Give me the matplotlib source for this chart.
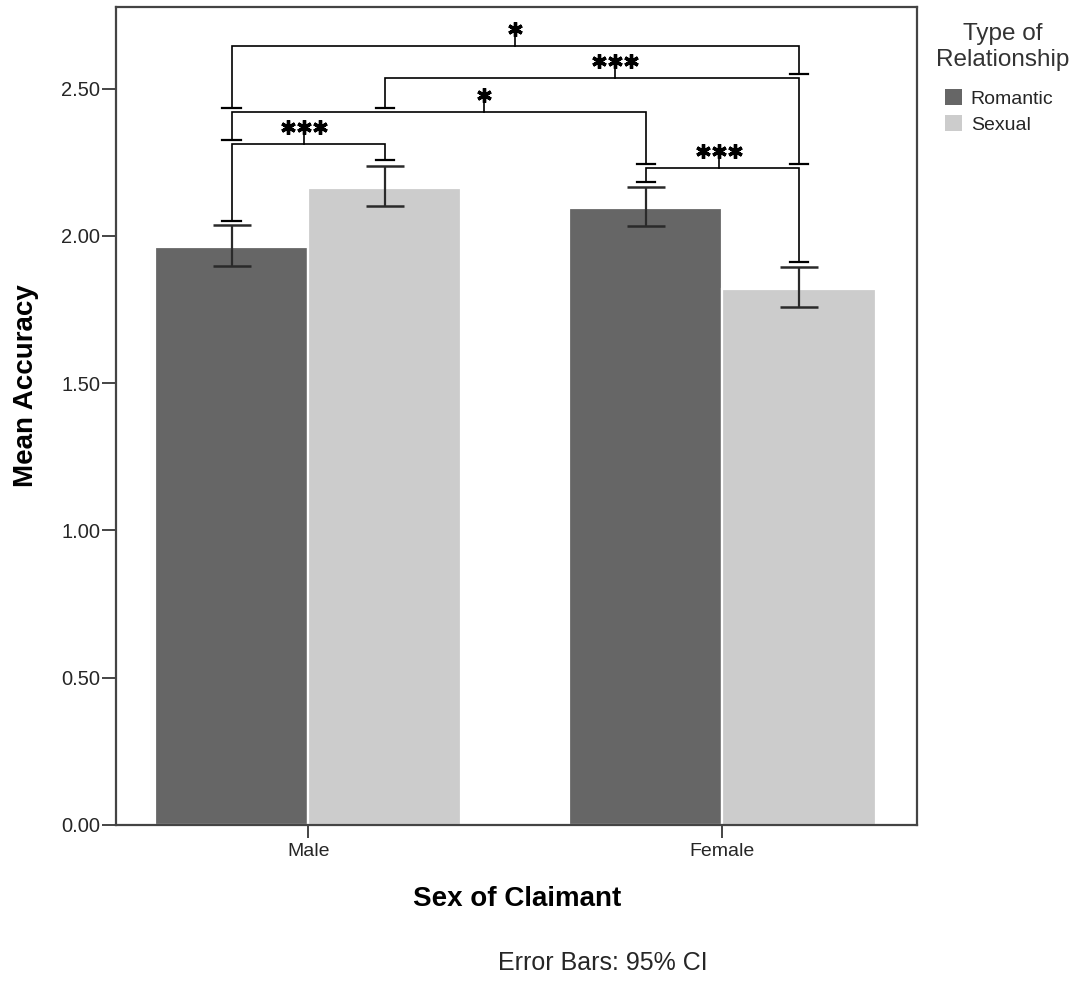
import matplotlib
matplotlib.use("Agg")
import matplotlib.pyplot as plt
import numpy as np

# ---- data -------------------------------------------------------------
groups = ["Male", "Female"]
series = ["Romantic", "Sexual"]
romantic_mean = [1.962, 2.093]
sexual_mean = [2.163, 1.820]
romantic_ci_low = [1.899, 2.033]
romantic_ci_high = [2.037, 2.167]
sexual_ci_low = [2.101, 1.759]
sexual_ci_high = [2.238, 1.895]
y_ticks = [0.0, 0.5, 1.0, 1.5, 2.0, 2.5]

# significance brackets: (left bar, right bar, level, left end, right end, label, label position)
# bars are indexed 0 = Male/Romantic, 1 = Male/Sexual, 2 = Female/Romantic, 3 = Female/Sexual
brackets = [
    (0, 3, 2.644, 2.434, 2.549, "*", 0.50),
    (1, 3, 2.536, 2.434, 2.244, "***", 0.556),
    (0, 2, 2.420, 2.325, 2.244, "*", 0.61),
    (2, 3, 2.230, 2.183, 1.911, "***", 0.48),
    (0, 1, 2.312, 2.050, 2.257, "***", 0.47),
]

plt.rcParams["font.family"] = ["Liberation Sans", "DejaVu Sans"]

DARK = "#666666"
LIGHT = "#cccccc"
TEXT = "#262626"

fig = plt.figure(figsize=(10.8, 9.81), dpi=100)
ax = fig.add_axes([116 / 1080, 1 - 825 / 981, 801 / 1080, 818 / 981])

x = np.arange(len(groups))
width = 0.37
off = width / 2

bars_r = ax.bar(x - off, romantic_mean, width, color=DARK, edgecolor="white",
                linewidth=1.6, label=series[0], zorder=2)
bars_s = ax.bar(x + off, sexual_mean, width, color=LIGHT, edgecolor="white",
                linewidth=1.6, label=series[1], zorder=2)

def draw_ci(xs, mean, lo, hi):
    mean = np.asarray(mean)
    yerr = np.vstack([mean - np.asarray(lo), np.asarray(hi) - mean])
    ax.errorbar(xs, mean, yerr=yerr, fmt="none", ecolor="#2a2a2a",
                elinewidth=1.6, capsize=13.5, capthick=1.8, zorder=3)

draw_ci(x - off, romantic_mean, romantic_ci_low, romantic_ci_high)
draw_ci(x + off, sexual_mean, sexual_ci_low, sexual_ci_high)

# centres of the four bars, in plotting order
bar_x = [x[0] - off, x[0] + off, x[1] - off, x[1] + off]

cap_half = 0.022
tick_len = 0.030
star_rise = 0.058
star_gap = 0.0386

for i, j, level, end_l, end_r, label, frac in brackets:
    xl, xr = bar_x[i], bar_x[j]
    ax.plot([xl, xl, xr, xr], [end_l, level, level, end_r], color="black",
            lw=1.2, solid_joinstyle="miter", zorder=4)
    ax.plot([xl - cap_half, xl + cap_half], [end_l, end_l], color="black", lw=1.6, zorder=4)
    ax.plot([xr - cap_half, xr + cap_half], [end_r, end_r], color="black", lw=1.6, zorder=4)
    xm = xl + frac * (xr - xl)
    ax.plot([xm, xm], [level, level + tick_len], color="black", lw=1.2, zorder=4)
    n = len(label)
    xs = xm + (np.arange(n) - (n - 1) / 2) * star_gap
    ax.plot(xs, np.full(n, level + star_rise), linestyle="none",
            marker=(6, 2, 0), markersize=10.5, markeredgewidth=2.4,
            color="black", zorder=4)

# ---- axes styling ------------------------------------------------------
ax.set_xlim(-0.464, 1.47)
ax.set_ylim(0, 2.777)
ax.set_yticks(y_ticks)
ax.set_yticklabels([f"{v:.2f}" for v in y_ticks])
ax.set_xticks(x)
ax.set_xticklabels(groups)

for sp in ax.spines.values():
    sp.set_color("#444444")
    sp.set_linewidth(1.6)

ax.tick_params(axis="y", direction="out", length=10, width=1.4, color="#444444",
               labelsize=14.5, labelcolor=TEXT, pad=1.5)
ax.tick_params(axis="x", direction="out", length=9, width=1.4, color="#444444",
               labelsize=14, labelcolor=TEXT, pad=4)

ax.set_ylabel("Mean Accuracy", fontsize=20, fontweight="bold", color="black")
ax.yaxis.label.set_va("center")
ax.yaxis.set_label_coords(-0.112, 0.537)
ax.set_xlabel("Sex of Claimant", fontsize=20, fontweight="bold", color="black")
ax.xaxis.label.set_va("center")
ax.xaxis.set_label_coords(0.5006, -0.0905)

fig.text(603 / 1080, 1 - 963 / 981, "Error Bars: 95% CI", ha="center",
         va="center", fontsize=18, color=TEXT)

# legend: centred two-line title with the swatches underneath
fig.text(1003 / 1080, 1 - 47 / 981, "Type of\nRelationship", ha="center",
         va="center", multialignment="center", fontsize=17.5, color="#333333",
         linespacing=1.28)
leg = ax.legend(handles=[bars_r, bars_s], labels=series,
                loc="upper left", bbox_to_anchor=(945 / 1080, 1 - 89 / 981),
                bbox_transform=fig.transFigure, frameon=False, fontsize=14,
                handlelength=0.87, handleheight=0.87, handletextpad=0.45,
                labelspacing=0.38, borderaxespad=0, borderpad=0)
for t in leg.get_texts():
    t.set_color(TEXT)
for h in leg.legend_handles:
    h.set_edgecolor("none")

fig.savefig("out.png", dpi=100)
